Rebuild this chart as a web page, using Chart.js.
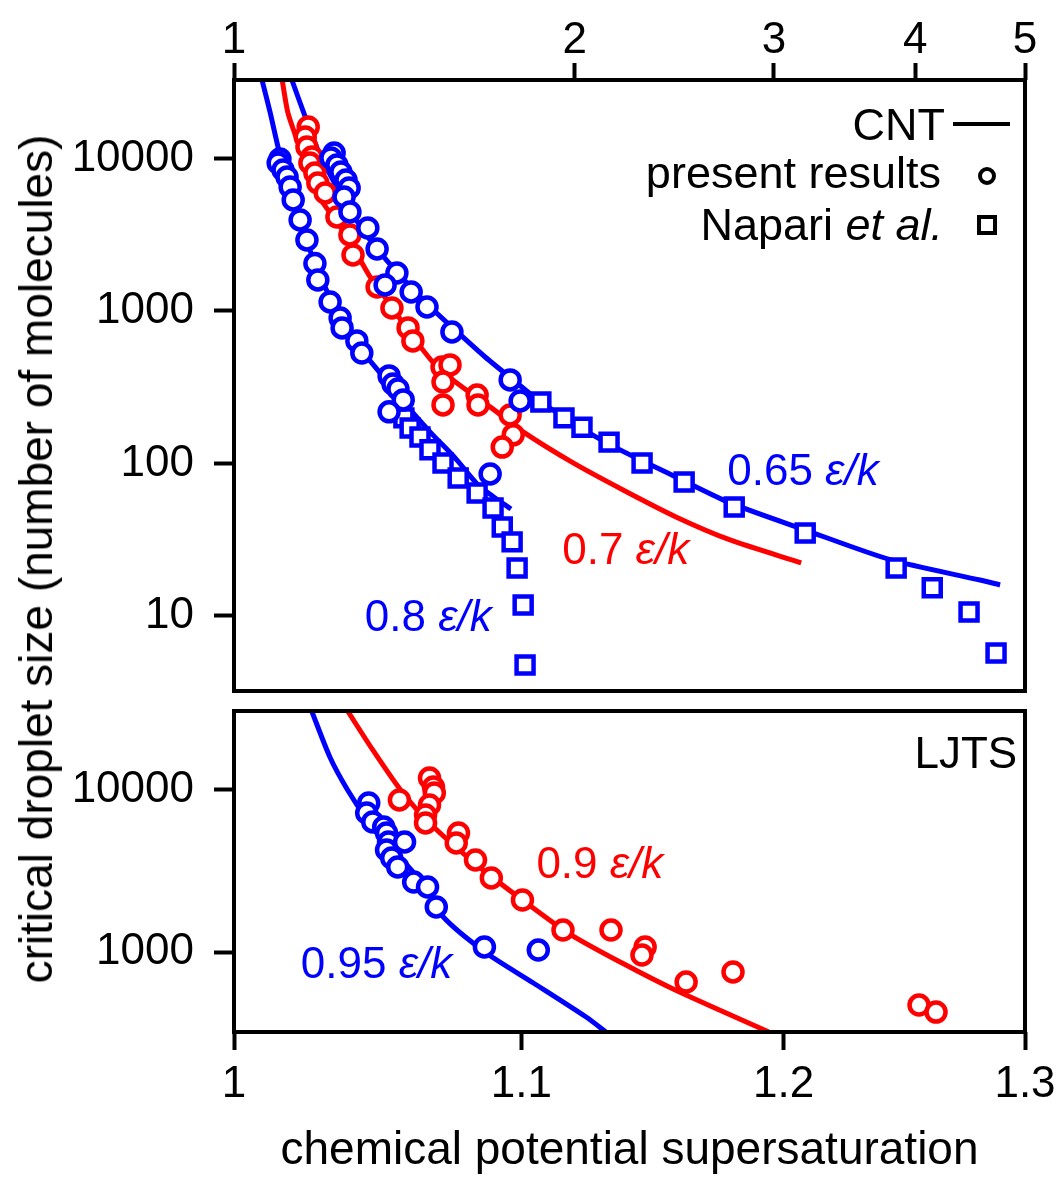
<!DOCTYPE html>
<html><head><meta charset="utf-8">
<script src="https://cdn.jsdelivr.net/npm/chart.js@4.4.1/dist/chart.umd.min.js"></script>
<style>
html,body{margin:0;padding:0;background:#fff;}
#wrap{position:relative;width:1059px;height:1179px;overflow:hidden;background:#fff;}
canvas{position:absolute;left:0;top:0;}
#ytitle{position:absolute;left:36px;top:559px;transform:translate(-50%,-50%) rotate(-90deg);white-space:nowrap;font:46px "Liberation Sans",Arial,sans-serif;color:#000;line-height:1;}
</style></head><body>
<div id="wrap">
<canvas id="cTop" width="1059" height="1179"></canvas>
<canvas id="cBot" width="1059" height="1179"></canvas>
<div id="ytitle">critical droplet size (number of molecules)</div>
</div>
<script>
// ---------- tick values ----------
const topXTicks = [1, 2, 3, 4, 5];
const topYTicks = [10, 100, 1000, 10000];
const botXTicks = [1, 1.1, 1.2, 1.3];
const botYTicks = [1000, 10000];

// ---------- top panel (x: top axis units) ----------
const cnt080X = [1.0586, 1.076, 1.098, 1.121, 1.144, 1.179, 1.216, 1.253, 1.292, 1.346, 1.402, 1.490, 1.568, 1.640, 1.701, 1.757];
const cnt080Y = [32700, 20180, 10540, 6220, 3834, 2048, 1217, 809, 572, 392, 269, 161, 108.7, 73.4, 59.4, 50.3];
const cnt070X = [1.103, 1.116, 1.137, 1.163, 1.186, 1.216, 1.259, 1.319, 1.365, 1.431, 1.512, 1.617, 1.684, 1.801, 1.994, 2.207, 2.458, 2.744, 3.171];
const cnt070Y = [32700, 19880, 13220, 8410, 5764, 4390, 3057, 1671, 1181, 717, 429, 290, 235, 161, 100.8, 67.0, 44.6, 31.5, 22.3];
const cnt065X = [1.125, 1.156, 1.186, 1.223, 1.266, 1.319, 1.388, 1.475, 1.568, 1.667, 1.765, 1.867, 2.128, 2.458, 2.744, 3.197, 3.807, 4.563, 4.753];
const cnt065Y = [32700, 18710, 11370, 7230, 4596, 2921, 1857, 1146, 751, 499, 353, 253, 138, 81.5, 55.1, 36.6, 23.3, 17.2, 15.97];

const res080X = [1.098, 1.094, 1.105, 1.114, 1.121, 1.128, 1.144, 1.160, 1.179, 1.186, 1.216, 1.241, 1.246, 1.284, 1.297, 1.371, 1.382, 1.396, 1.411, 1.371, 1.684];
const res080Y = [9924, 9343, 8410, 7560, 6505, 5345, 3952, 2921, 2048, 1597, 1146, 900, 774, 636, 530, 375, 332, 308, 261, 218, 85.3];
const res070X = [1.163, 1.156, 1.160, 1.172, 1.167, 1.179, 1.186, 1.204, 1.233, 1.266, 1.274, 1.338, 1.379, 1.425, 1.439, 1.527, 1.552, 1.530, 1.530, 1.640, 1.643, 1.754, 1.765, 1.726];
const res070Y = [16090, 13840, 11900, 10230, 9343, 8035, 6907, 5939, 4134, 3150, 2329, 1437, 1046, 774, 636, 429, 443, 342, 242, 281, 242, 208, 154, 128];
const res065X = [1.226, 1.218, 1.233, 1.243, 1.256, 1.264, 1.251, 1.266, 1.313, 1.338, 1.393, 1.360, 1.434, 1.481, 1.558, 1.754, 1.790];
const res065Y = [10870, 10080, 9066, 8155, 7230, 6405, 5592, 4459, 3502, 2551, 1775, 1481, 1332, 1062, 728, 353, 257];

const nap080X = [1.413, 1.431, 1.460, 1.490, 1.530, 1.578, 1.640, 1.694, 1.726, 1.761, 1.779, 1.801, 1.808];
const nap080Y = [199, 171, 149, 123, 100.8, 80.3, 64.1, 51.1, 38.3, 30.6, 20.6, 11.8, 4.77];
const nap065X = [1.867, 1.957, 2.030, 2.145, 2.294, 2.499, 2.767, 3.197, 3.847, 4.140, 4.462, 4.714];
const nap065Y = [253, 199, 173, 138, 100.8, 75.6, 51.8, 35.0, 20.6, 15.3, 10.6, 5.72];

// ---------- bottom panel (LJTS, x: chemical potential supersaturation) ----------
const cnt095X = [1.0261, 1.0323, 1.0384, 1.0446, 1.0533, 1.0645, 1.0719, 1.0873, 1.1044, 1.1239, 1.1313];
const cnt095Y = [30700, 15990, 10000, 6813, 4448, 2666, 1644, 986, 644, 397, 321];
const cnt090X = [1.0384, 1.0471, 1.0568, 1.0670, 1.0848, 1.1004, 1.1172, 1.1374, 1.1576, 1.1941];
const cnt090Y = [30700, 17650, 10000, 6256, 3347, 2094, 1310, 855, 583, 321];
const res095X = [1.0457, 1.0450, 1.0471, 1.0509, 1.0519, 1.0526, 1.0582, 1.0519, 1.0537, 1.0558, 1.0614, 1.0663, 1.0694, 1.0866, 1.1062];
const res095Y = [8313, 7211, 6345, 5909, 5427, 4775, 4775, 4262, 3804, 3347, 2704, 2519, 1896, 1074, 1029];
const res090X = [1.0564, 1.0670, 1.0684, 1.0687, 1.0670, 1.0656, 1.0656, 1.0773, 1.0765, 1.0834, 1.0891, 1.1004, 1.1153, 1.1332, 1.1461, 1.1449, 1.1618, 1.1800, 1.2551, 1.2622];
const res090Y = [8677, 11860, 10430, 9583, 8078, 7010, 6256, 5427, 4709, 3698, 2863, 2094, 1367, 1367, 1074, 958, 653, 753, 471, 426];

// ---------- styling ----------
const FF = '"Liberation Sans", Arial, sans-serif';
const BLUE = '#0000ff', RED = '#ff0000', BLACK = '#000000';
Chart.defaults.font.family = FF;
Chart.defaults.color = BLACK;

function pts(xs, ys) { return xs.map((x, i) => ({ x: x, y: ys[i] })); }
function lineDS(xs, ys, color) {
  return { data: pts(xs, ys), showLine: true, borderColor: color, borderWidth: 5,
    pointRadius: 0, pointHoverRadius: 0, fill: false, tension: 0.25, order: 3 };
}
function markDS(xs, ys, color, style) {
  const r = style === 'rect' ? 12 : 9.5;
  return { data: pts(xs, ys), showLine: false, pointStyle: style,
    pointRadius: r, pointHoverRadius: r,
    pointBorderWidth: 4.5, pointBorderColor: color, pointBackgroundColor: '#ffffff',
    borderColor: color, backgroundColor: '#ffffff', order: style === 'rect' ? 2 : 1 };
}
function setTicks(arr) { return s => { s.ticks = arr.map(v => ({ value: v })); }; }
function gridOpts(len) {
  return { display: true, drawOnChartArea: false, drawTicks: true, tickLength: len, tickWidth: 4, tickColor: BLACK };
}
function fitX(h) { return s => { s.height = h; s.paddingLeft = 0; s.paddingRight = 0; s.paddingTop = 0; s.paddingBottom = 0; }; }
function fitY(w) { return s => { s.width = w; s.paddingLeft = 0; s.paddingRight = 0; s.paddingTop = 0; s.paddingBottom = 0; }; }

const framePlugin = {
  id: 'frame',
  afterDatasetsDraw(chart) {
    const a = chart.chartArea, ctx = chart.ctx;
    ctx.save(); ctx.lineWidth = 4; ctx.strokeStyle = BLACK;
    ctx.strokeRect(a.left, a.top, a.right - a.left, a.bottom - a.top);
    ctx.restore();
  }
};

function drawRich(ctx, parts, x, y, align, color, size) {
  const widths = parts.map(p => { ctx.font = (p.i ? 'italic ' : '') + size + 'px ' + FF; return ctx.measureText(p.t).width; });
  const total = widths.reduce((s, w) => s + w, 0);
  let cx = align === 'right' ? x - total : x;
  ctx.fillStyle = color; ctx.textAlign = 'left'; ctx.textBaseline = 'alphabetic';
  parts.forEach((p, k) => { ctx.font = (p.i ? 'italic ' : '') + size + 'px ' + FF; ctx.fillText(p.t, cx, y); cx += widths[k]; });
}

// labels anchored in data coordinates (left/right edge, vertical cap centre)
const textPlugin = {
  id: 'richText',
  afterDraw(chart, args, opts) {
    const ctx = chart.ctx; const xs = chart.scales.x, ys = chart.scales.y;
    ctx.save();
    (opts.items || []).forEach(it => {
      const px = xs.getPixelForValue(it.x), py = ys.getPixelForValue(it.y);
      drawRich(ctx, it.parts, px, py + 0.358 * it.size, it.align, it.color, it.size);
    });
    if (opts.legend) {
      const a = chart.chartArea; const r = a.right;
      drawRich(ctx, [{ t: 'CNT' }], r - 80, 140, 'right', BLACK, 45);
      ctx.lineWidth = 4; ctx.strokeStyle = BLACK;
      ctx.beginPath(); ctx.moveTo(r - 72, 124); ctx.lineTo(r - 15, 124); ctx.stroke();
      drawRich(ctx, [{ t: 'present results' }], r - 84, 188, 'right', BLACK, 45);
      ctx.beginPath(); ctx.arc(r - 38, 176, 7, 0, Math.PI * 2); ctx.stroke();
      drawRich(ctx, [{ t: 'Napari ' }, { t: 'et al.', i: true }], r - 82, 240, 'right', BLACK, 45);
      ctx.strokeRect(r - 46, 217, 16, 16);
    }
    ctx.restore();
  }
};

const baseTickFont = { size: 44, family: FF };

new Chart(document.getElementById('cTop'), {
  type: 'scatter',
  data: { datasets: [
    markDS(res065X, res065Y, BLUE, 'circle'),
    markDS(res070X, res070Y, RED, 'circle'),
    markDS(res080X, res080Y, BLUE, 'circle'),
    markDS(nap065X, nap065Y, BLUE, 'rect'),
    markDS(nap080X, nap080Y, BLUE, 'rect'),
    lineDS(cnt065X, cnt065Y, BLUE),
    lineDS(cnt070X, cnt070Y, RED),
    lineDS(cnt080X, cnt080Y, BLUE)
  ] },
  options: {
    responsive: false, animation: false, devicePixelRatio: 1, events: [],
    layout: { padding: { left: 0, top: 0, right: 34, bottom: 488 } },
    plugins: { legend: { display: false }, tooltip: { enabled: false },
      richText: { legend: true, items: [
        { parts: [{ t: '0.65 ' }, { t: 'ε/k', i: true }], x: 2.728, y: 92.0, align: 'left', color: BLUE, size: 44 },
        { parts: [{ t: '0.7 ' }, { t: 'ε/k', i: true }], x: 1.950, y: 27.9, align: 'left', color: RED, size: 44 },
        { parts: [{ t: '0.8 ' }, { t: 'ε/k', i: true }], x: 1.305, y: 10.15, align: 'left', color: BLUE, size: 44 }
      ] } },
    scales: {
      x: { type: 'logarithmic', position: 'top', min: 1, max: 5,
        afterBuildTicks: setTicks(topXTicks), afterFit: fitX(80),
        grid: gridOpts(17), border: { display: false },
        ticks: { font: baseTickFont, color: BLACK, padding: -4, maxRotation: 0, autoSkip: false, callback: v => String(v) } },
      y: { type: 'logarithmic', position: 'left', min: 3.22, max: 32700,
        afterBuildTicks: setTicks(topYTicks), afterFit: fitY(234),
        grid: gridOpts(20), border: { display: false },
        ticks: { font: baseTickFont, color: BLACK, padding: 20, autoSkip: false, callback: v => String(v) } }
    }
  },
  plugins: [framePlugin, textPlugin]
});

new Chart(document.getElementById('cBot'), {
  type: 'scatter',
  data: { datasets: [
    markDS(res095X, res095Y, BLUE, 'circle'),
    markDS(res090X, res090Y, RED, 'circle'),
    lineDS(cnt095X, cnt095Y, BLUE),
    lineDS(cnt090X, cnt090Y, RED)
  ] },
  options: {
    responsive: false, animation: false, devicePixelRatio: 1, events: [],
    layout: { padding: { left: 0, top: 711, right: 34, bottom: 0 } },
    plugins: { legend: { display: false }, tooltip: { enabled: false },
      richText: { legend: false, items: [
        { parts: [{ t: '0.9 ' }, { t: 'ε/k', i: true }], x: 1.1055, y: 3594, align: 'left', color: RED, size: 44 },
        { parts: [{ t: '0.95 ' }, { t: 'ε/k', i: true }], x: 1.0224, y: 868, align: 'left', color: BLUE, size: 44 },
        { parts: [{ t: 'LJTS' }], x: 1.2966, y: 17160, align: 'right', color: BLACK, size: 44 }
      ] } },
    scales: {
      x: { type: 'logarithmic', position: 'bottom', min: 1, max: 1.3,
        afterBuildTicks: setTicks(botXTicks), afterFit: fitX(147),
        grid: gridOpts(18), border: { display: false },
        ticks: { font: baseTickFont, color: BLACK, padding: 8, maxRotation: 0, autoSkip: false, callback: v => String(v) },
        title: { display: true, text: 'chemical potential supersaturation', color: BLACK,
          font: { size: 46, family: FF }, padding: { top: 0, bottom: 0 } } },
      y: { type: 'logarithmic', position: 'left', min: 321, max: 30700,
        afterBuildTicks: setTicks(botYTicks), afterFit: fitY(234),
        grid: gridOpts(20), border: { display: false },
        ticks: { font: baseTickFont, color: BLACK, padding: 20, autoSkip: false, callback: v => String(v) } }
    }
  },
  plugins: [framePlugin, textPlugin]
});
</script>
</body></html>
